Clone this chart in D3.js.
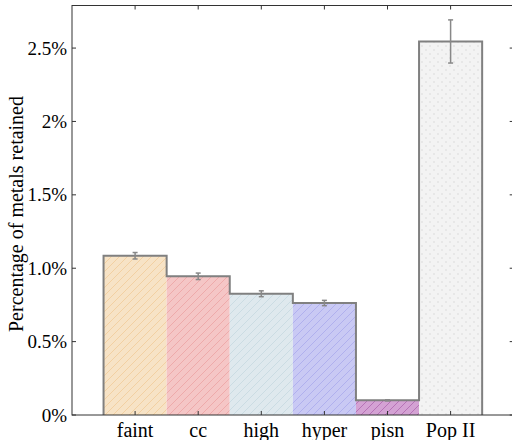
<!DOCTYPE html>
<html>
<head>
<meta charset="utf-8">
<script src="https://cdn.jsdelivr.net/npm/d3@7"></script>
<style>
  body { margin: 0; background: #fff; }
  text { font-family: "Liberation Serif", "DejaVu Serif", serif; }
</style>
</head>
<body>
<div id="chart"></div>
<script>
// data
var categories = ["faint", "cc", "high", "hyper", "pisn", "Pop II"];
var values = [1.085, 0.945, 0.826, 0.763, 0.10, 2.545];
var errors = [0.022, 0.022, 0.020, 0.018, 0.004, 0.147];
var yTicks = [0, 0.5, 1.0, 1.5, 2.0, 2.5];
var yTickLabels = ["0%", "0.5%", "1.0%", "1.5%", "2%", "2.5%"];

var fills = ["#f7e3c6", "#f5c6c6", "#dfe9ee", "#c9c9f4", "#d4a2d4", "#f3f3f3"];
var hatchCol = ["#f2d0a2", "#eeaaaa", "#cbdce3", "#b0b0ee", "#b672b6", "#e4e4e4"];

var W = 512, H = 440;
var margin = {top: 5.5, left: 72, bottom: 25, right: 0};

var svg = d3.select("#chart").append("svg")
  .attr("width", W).attr("height", H);

// hatch patterns
var defs = svg.append("defs");
categories.forEach(function(c, i) {
  var p = defs.append("pattern")
    .attr("id", "hatch" + i)
    .attr("patternUnits", "userSpaceOnUse")
    .attr("width", 8).attr("height", 8);
  p.append("rect").attr("width", 8).attr("height", 8).attr("fill", fills[i]);
  if (i < 5) {
    p.append("path")
      .attr("d", "M-2,2 L2,-2 M0,8 L8,0 M6,10 L10,6")
      .attr("stroke", hatchCol[i]).attr("stroke-width", 1);
  } else {
    p.append("circle").attr("cx", 2).attr("cy", 2).attr("r", 1).attr("fill", hatchCol[i]);
    p.append("circle").attr("cx", 6).attr("cy", 6).attr("r", 1).attr("fill", hatchCol[i]);
  }
});

var x0 = margin.left, x1 = 513.7;
var yBottom = 415;

// x scale in "band units", bars fill the band, half band gap at the sides
var x = d3.scaleLinear().domain([-0.5, 6.5]).range([x0, x1]);
var y = d3.scaleLinear().domain([0, 2.79]).range([yBottom, margin.top]);

// bars
svg.append("g").selectAll("rect")
  .data(values)
  .enter().append("rect")
    .attr("x", function(d, i) { return x(i); })
    .attr("width", function(d, i) { return x(i + 1) - x(i); })
    .attr("y", function(d) { return y(d); })
    .attr("height", function(d) { return y(0) - y(d); })
    .attr("fill", function(d, i) { return "url(#hatch" + i + ")"; });

// step outline
var pts = [[x(0), y(0)]];
values.forEach(function(v, i) {
  pts.push([x(i), y(v)]);
  pts.push([x(i + 1), y(v)]);
});
pts.push([x(values.length), y(0)]);
svg.append("path")
  .attr("d", d3.line()(pts))
  .attr("fill", "none")
  .attr("stroke", "#808080")
  .attr("stroke-width", 2);

// error bars
var eb = svg.append("g").attr("stroke", "#888").attr("stroke-width", 1.5);
values.forEach(function(v, i) {
  var cx = x(i + 0.5);
  eb.append("line").attr("x1", cx).attr("x2", cx)
    .attr("y1", y(v - errors[i])).attr("y2", y(v + errors[i]));
  [v - errors[i], v + errors[i]].forEach(function(e) {
    eb.append("line").attr("x1", cx - 2.5).attr("x2", cx + 2.5)
      .attr("y1", y(e)).attr("y2", y(e));
  });
});

// frame
svg.append("rect")
  .attr("x", x0).attr("y", margin.top)
  .attr("width", x1 - x0).attr("height", yBottom - margin.top)
  .attr("fill", "none").attr("stroke", "#333").attr("stroke-width", 1);

// ticks (inward, all sides)
var tk = svg.append("g").attr("stroke", "#333").attr("stroke-width", 1);
yTicks.forEach(function(t) {
  tk.append("line").attr("x1", x0).attr("x2", x0 + 4).attr("y1", y(t)).attr("y2", y(t));
  tk.append("line").attr("x1", x1 - 4).attr("x2", x1).attr("y1", y(t)).attr("y2", y(t));
});
categories.forEach(function(c, i) {
  var cx = x(i + 0.5);
  tk.append("line").attr("x1", cx).attr("x2", cx).attr("y1", yBottom).attr("y2", yBottom - 4);
  tk.append("line").attr("x1", cx).attr("x2", cx).attr("y1", margin.top).attr("y2", margin.top + 4);
});

// tick labels
svg.append("g").selectAll("text")
  .data(yTicks)
  .enter().append("text")
    .attr("x", x0 - 5)
    .attr("y", function(d) { return y(d); })
    .attr("dy", "0.35em")
    .attr("text-anchor", "end")
    .style("font-size", "19px")
    .text(function(d, i) { return yTickLabels[i]; });

svg.append("g").selectAll("text")
  .data(categories)
  .enter().append("text")
    .attr("x", function(d, i) { return x(i + 0.5); })
    .attr("y", yBottom + 22)
    .attr("text-anchor", "middle")
    .style("font-size", "20px")
    .text(function(d) { return d; });

// y label
svg.append("text")
  .attr("transform", "translate(23," + 214 + ") rotate(-90)")
  .attr("text-anchor", "middle")
  .style("font-size", "20px")
  .text("Percentage of metals retained");
</script>
</body>
</html>
